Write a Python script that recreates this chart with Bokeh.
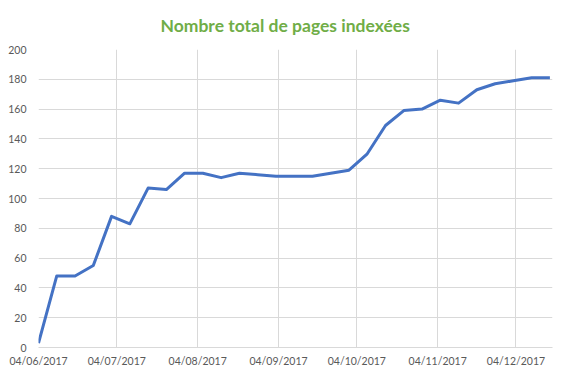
import pandas as pd
from bokeh.plotting import figure
from bokeh.models import FixedTicker, DatetimeTickFormatter, Range1d
from bokeh.embed import file_html
from bokeh.resources import INLINE

# Data (weekly)
dates = ["2017-06-04", "2017-06-11", "2017-06-18", "2017-06-25", "2017-07-02",
         "2017-07-09", "2017-07-16", "2017-07-23", "2017-07-30", "2017-08-06",
         "2017-08-13", "2017-08-20", "2017-08-27", "2017-09-03", "2017-09-10",
         "2017-09-17", "2017-09-24", "2017-10-01", "2017-10-08", "2017-10-15",
         "2017-10-22", "2017-10-29", "2017-11-05", "2017-11-12", "2017-11-19",
         "2017-11-26", "2017-12-03", "2017-12-10", "2017-12-17"]
pages = [3, 48, 48, 55, 88, 83, 107, 106, 117, 117, 114, 117, 116, 115, 115,
         115, 117, 119, 130, 149, 159, 160, 166, 164, 173, 177, 179, 181, 181]
tick_dates = ["2017-06-04", "2017-07-04", "2017-08-04", "2017-09-04",
              "2017-10-04", "2017-11-04", "2017-12-04"]
y_ticks = [0, 20, 40, 60, 80, 100, 120, 140, 160, 180, 200]
title_text = "Nombre total de pages indexées"

x = pd.to_datetime(dates)
ticks_ms = [pd.Timestamp(d).value / 1e6 for d in tick_dates]

p = figure(width=567, height=379, output_backend="svg", toolbar_location=None,
           x_axis_type="datetime",
           x_range=Range1d(pd.Timestamp("2017-06-04"), pd.Timestamp("2017-12-18")),
           y_range=Range1d(0, 200),
           min_border_left=38, min_border_right=15, min_border_top=49,
           min_border_bottom=32)

p.title.text = title_text
p.title.align = "left"
p.title.vertical_align = "top"
p.title.text_line_height = 1.0
p.title.text_color = "#70AD47"
p.title.text_font = "Lato"
p.title.text_font_style = "bold"
p.title.text_font_size = "17.5px"
p.title.standoff = 23
p.title.offset = 122

p.outline_line_color = None
p.background_fill_color = "white"
p.border_fill_color = "white"

p.line(x, pages, line_color="#4472C4", line_width=3, line_join="round")

p.xaxis.ticker = FixedTicker(ticks=ticks_ms)
p.xaxis.formatter = DatetimeTickFormatter(days="%d/%m/%Y", months="%d/%m/%Y",
                                          years="%d/%m/%Y", hours="%d/%m/%Y")
p.yaxis.ticker = FixedTicker(ticks=y_ticks)

for ax in (p.xaxis, p.yaxis):
    ax.major_tick_line_color = None
    ax.minor_tick_line_color = None
    ax.major_tick_out = 0
    ax.major_tick_in = 0
    ax.minor_tick_out = 0
    ax.major_label_text_font = "Lato"
    ax.major_label_text_font_size = "10.5px"
    ax.major_label_text_color = "#595959"

p.xaxis.axis_line_color = "#D9D9D9"
p.xaxis.major_label_standoff = 7
p.yaxis.axis_line_color = None
p.yaxis.major_label_standoff = 12

p.xgrid.grid_line_color = "#D9D9D9"
p.ygrid.grid_line_color = "#D9D9D9"

open("out.html", "w").write(file_html(p, INLINE))
